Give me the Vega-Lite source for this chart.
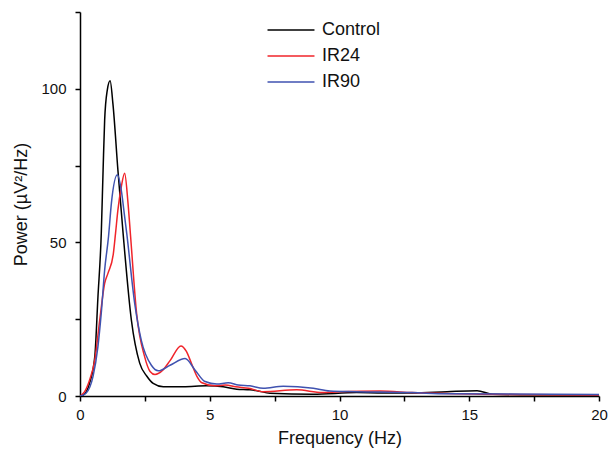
{
  "$schema": "https://vega.github.io/schema/vega-lite/v6.json",
  "width": 519,
  "height": 384,
  "autosize": "none",
  "padding": {"left": 80, "top": 12, "right": 10, "bottom": 54},
  "background": "white",
  "config": {
    "font": "Liberation Sans",
    "view": {"stroke": null},
    "axis": {"grid": false, "labelFlush": false, "domainColor": "#000", "domainWidth": 1.5, "tickColor": "#000", "tickWidth": 1.5, "tickSize": 5, "labelFontSize": 15, "labelColor": "#111", "titleFontSize": 18, "titleFontWeight": "normal", "titleColor": "#111"}
  },
  "data": {"values": [
    {"f": 0, "p": 0, "s": "Control"},
    {"f": 0.12, "p": 0.3, "s": "Control"},
    {"f": 0.37, "p": 4.2, "s": "Control"},
    {"f": 0.57, "p": 12.8, "s": "Control"},
    {"f": 0.69, "p": 32, "s": "Control"},
    {"f": 0.82, "p": 53, "s": "Control"},
    {"f": 0.89, "p": 73.6, "s": "Control"},
    {"f": 0.95, "p": 89.8, "s": "Control"},
    {"f": 1.05, "p": 99.5, "s": "Control"},
    {"f": 1.16, "p": 102.6, "s": "Control"},
    {"f": 1.27, "p": 95, "s": "Control"},
    {"f": 1.46, "p": 73.6, "s": "Control"},
    {"f": 1.66, "p": 53, "s": "Control"},
    {"f": 1.98, "p": 24.7, "s": "Control"},
    {"f": 2.3, "p": 10.7, "s": "Control"},
    {"f": 2.57, "p": 6.5, "s": "Control"},
    {"f": 2.82, "p": 4.1, "s": "Control"},
    {"f": 3.21, "p": 3, "s": "Control"},
    {"f": 3.98, "p": 3, "s": "Control"},
    {"f": 4.88, "p": 3.3, "s": "Control"},
    {"f": 5.52, "p": 3, "s": "Control"},
    {"f": 6.04, "p": 2.2, "s": "Control"},
    {"f": 6.55, "p": 2, "s": "Control"},
    {"f": 6.82, "p": 1.7, "s": "Control"},
    {"f": 7.32, "p": 0.9, "s": "Control"},
    {"f": 8.98, "p": 0.6, "s": "Control"},
    {"f": 10.66, "p": 1.1, "s": "Control"},
    {"f": 11.56, "p": 1.0, "s": "Control"},
    {"f": 12.8, "p": 1.0, "s": "Control"},
    {"f": 14.14, "p": 1.4, "s": "Control"},
    {"f": 15.3, "p": 1.7, "s": "Control"},
    {"f": 15.9, "p": 0.6, "s": "Control"},
    {"f": 16.96, "p": 0.4, "s": "Control"},
    {"f": 20, "p": 0.3, "s": "Control"},
    {"f": 0, "p": 0, "s": "IR24"},
    {"f": 0.18, "p": 1.4, "s": "IR24"},
    {"f": 0.37, "p": 5.2, "s": "IR24"},
    {"f": 0.57, "p": 11.7, "s": "IR24"},
    {"f": 0.76, "p": 24.7, "s": "IR24"},
    {"f": 0.95, "p": 36.7, "s": "IR24"},
    {"f": 1.08, "p": 40, "s": "IR24"},
    {"f": 1.28, "p": 46, "s": "IR24"},
    {"f": 1.37, "p": 53, "s": "IR24"},
    {"f": 1.46, "p": 60.5, "s": "IR24"},
    {"f": 1.59, "p": 68, "s": "IR24"},
    {"f": 1.72, "p": 72.5, "s": "IR24"},
    {"f": 1.85, "p": 62.8, "s": "IR24"},
    {"f": 1.95, "p": 51.9, "s": "IR24"},
    {"f": 2.18, "p": 27, "s": "IR24"},
    {"f": 2.49, "p": 12.8, "s": "IR24"},
    {"f": 2.7, "p": 8, "s": "IR24"},
    {"f": 2.89, "p": 7.0, "s": "IR24"},
    {"f": 3.2, "p": 8.5, "s": "IR24"},
    {"f": 3.47, "p": 11.5, "s": "IR24"},
    {"f": 3.89, "p": 16.3, "s": "IR24"},
    {"f": 4.1, "p": 14.5, "s": "IR24"},
    {"f": 4.3, "p": 10.5, "s": "IR24"},
    {"f": 4.5, "p": 6.5, "s": "IR24"},
    {"f": 4.7, "p": 4.3, "s": "IR24"},
    {"f": 5.2, "p": 3.3, "s": "IR24"},
    {"f": 5.6, "p": 3.6, "s": "IR24"},
    {"f": 6.0, "p": 3.0, "s": "IR24"},
    {"f": 6.5, "p": 2.5, "s": "IR24"},
    {"f": 7.06, "p": 1.4, "s": "IR24"},
    {"f": 8.35, "p": 2.0, "s": "IR24"},
    {"f": 9.34, "p": 1.1, "s": "IR24"},
    {"f": 10.0, "p": 1.4, "s": "IR24"},
    {"f": 11.56, "p": 1.6, "s": "IR24"},
    {"f": 12.8, "p": 1.1, "s": "IR24"},
    {"f": 15.4, "p": 0.6, "s": "IR24"},
    {"f": 20, "p": 0.3, "s": "IR24"},
    {"f": 0, "p": 0, "s": "IR90"},
    {"f": 0.24, "p": 1, "s": "IR90"},
    {"f": 0.5, "p": 6.3, "s": "IR90"},
    {"f": 0.69, "p": 16, "s": "IR90"},
    {"f": 0.82, "p": 27, "s": "IR90"},
    {"f": 0.95, "p": 41, "s": "IR90"},
    {"f": 1.1, "p": 52, "s": "IR90"},
    {"f": 1.21, "p": 62.8, "s": "IR90"},
    {"f": 1.44, "p": 72, "s": "IR90"},
    {"f": 1.59, "p": 67, "s": "IR90"},
    {"f": 1.72, "p": 58.4, "s": "IR90"},
    {"f": 1.8, "p": 53, "s": "IR90"},
    {"f": 2.11, "p": 30, "s": "IR90"},
    {"f": 2.36, "p": 18.2, "s": "IR90"},
    {"f": 2.75, "p": 10, "s": "IR90"},
    {"f": 3.02, "p": 8.2, "s": "IR90"},
    {"f": 3.47, "p": 10, "s": "IR90"},
    {"f": 4.05, "p": 12.2, "s": "IR90"},
    {"f": 4.43, "p": 8.5, "s": "IR90"},
    {"f": 4.82, "p": 4.7, "s": "IR90"},
    {"f": 5.27, "p": 3.9, "s": "IR90"},
    {"f": 5.71, "p": 4.3, "s": "IR90"},
    {"f": 6.1, "p": 3.6, "s": "IR90"},
    {"f": 6.55, "p": 3.3, "s": "IR90"},
    {"f": 7.06, "p": 2.5, "s": "IR90"},
    {"f": 7.83, "p": 3.2, "s": "IR90"},
    {"f": 8.99, "p": 2.5, "s": "IR90"},
    {"f": 9.63, "p": 1.6, "s": "IR90"},
    {"f": 10.66, "p": 1.4, "s": "IR90"},
    {"f": 12.8, "p": 1.1, "s": "IR90"},
    {"f": 14.14, "p": 0.7, "s": "IR90"},
    {"f": 20, "p": 0.5, "s": "IR90"}
  ]},
  "mark": {"type": "line", "interpolate": "monotone", "strokeWidth": 1.5, "clip": true},
  "encoding": {
    "x": {"field": "f", "type": "quantitative", "title": "Frequency (Hz)",
      "scale": {"domain": [0, 20], "nice": false},
      "axis": {"values": [0, 2.5, 5, 7.5, 10, 12.5, 15, 17.5, 20], "labelExpr": "datum.value % 5 === 0 ? datum.label : ''", "labelPadding": 6, "titlePadding": 7}},
    "y": {"field": "p", "type": "quantitative", "title": "Power (µV²/Hz)",
      "scale": {"domain": [0, 125], "nice": false},
      "axis": {"values": [0, 25, 50, 75, 100, 125], "labelExpr": "datum.value % 50 === 0 && datum.value < 125 ? datum.label : ''", "labelPadding": 9, "titlePadding": 10}},
    "color": {"field": "s", "type": "nominal",
      "scale": {"domain": ["Control", "IR24", "IR90"], "range": ["#000000", "#f0242a", "#3f52b0"]},
      "legend": {"title": null, "orient": "none", "legendX": 202, "legendY": 9, "padding": 0, "symbolType": "M-3,0H3", "symbolSize": 245, "symbolStrokeWidth": 1.5, "labelFontSize": 18, "labelColor": "#111", "labelOffset": 22, "rowPadding": 8}}
  }
}
